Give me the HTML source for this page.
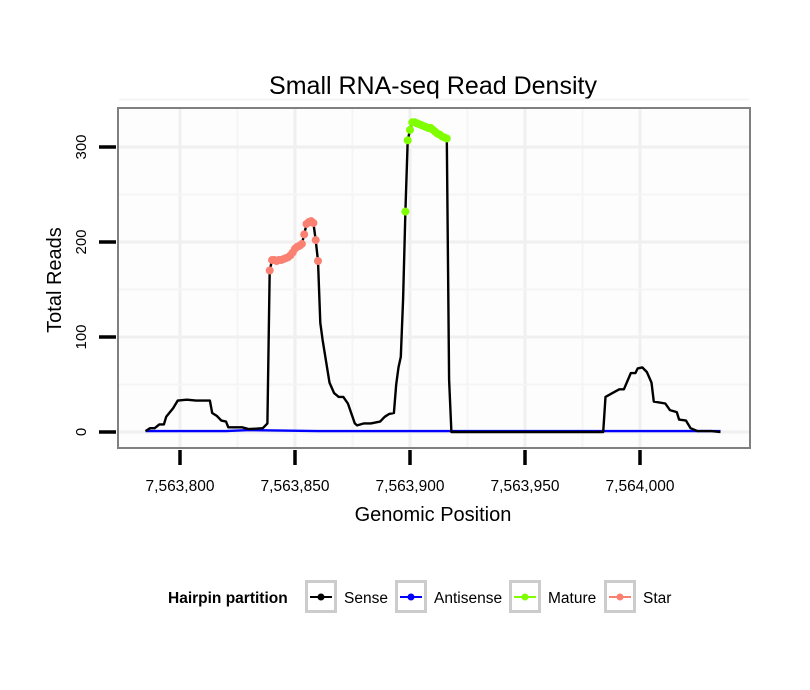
<!DOCTYPE html>
<html><head><meta charset="utf-8"><style>
body{margin:0;background:#fff;}
svg{display:block;font-family:"Liberation Sans",sans-serif;}
</style></head><body>
<svg id="chart" width="810" height="690" viewBox="0 0 810 690">
<text x="433" y="94" font-size="25" text-anchor="middle">Small RNA-seq Read Density</text>
<rect x="118" y="108" width="632" height="340" fill="#fdfdfd"/>
<g id="grid"></g>
<g id="series"></g>
<rect x="118" y="108" width="632" height="340" fill="none" stroke="#808080" stroke-width="2"/>
<g id="axes"></g>
<text x="61" y="280" font-size="20" text-anchor="middle" transform="rotate(-90 61 280)">Total Reads</text>
<text x="433" y="521" font-size="20" text-anchor="middle">Genomic Position</text>
<g>
<text x="168" y="603" font-size="15.5" font-weight="bold">Hairpin partition</text>
<g id="legend"></g>
</g>
</svg>
<script>
const xTicks=[7563800,7563850,7563900,7563950,7564000];
const xTickLabels=["7,563,800","7,563,850","7,563,900","7,563,950","7,564,000"];
const yTicks=[0,100,200,300];
const yTickLabels=["0","100","200","300"];
const sensePos=[-15,-13,-11,-9,-7,-6,-3,-1,3,7,13,14,16,18,20,21,27,30,36,38,39,40,41,42,43,44,45,46,47,48,49,50,51,52,53,54,55,56,57,58,59,60,61,62,65,67,69,71,73,76,77,80,83,87,89,91,93,94,95,96,97,98,99,100,101,102,103,104,105,106,107,108,109,110,111,112,113,114,115,116,117,118,184,185,188,191,193,196,198,199,201,203,205,206,211,213,216,217,220,222,225,231,235];
const senseVals=[1,4,4,8,8,16,25,33,34,33,33,20,17,12,11,5,5,3,4,9,170,181,181,180,181,181,182,183,184,186,189,193,195,196,198,208,219,221,222,220,202,180,115,97,52,41,37,37,30,9,7,9,9,11,16,19,20,50,68,79,140,232,307,318,326,326,325,324,323,322,321,320,320,318,316,314,313,311,310,309,55,0,0,37,41,45,45,62,62,67,68,63,52,32,30,23,21,13,12,4,1,1,0];
const antiPos=[-15,20,30,60,235];
const antiVals=[1,1,2,1,1];
const starPos=[39,40,41,42,43,44,45,46,47,48,49,50,51,52,53,54,55,56,57,58,59,60];
const starVals=[170,181,181,180,181,181,182,183,184,186,189,193,195,196,198,208,219,221,222,220,202,180];
const maturePos=[98,99,100,101,102,103,104,105,106,107,108,109,110,111,112,113,114,115,116];
const matureVals=[232,307,318,326,326,325,324,323,322,321,320,320,318,316,314,313,311,310,309];
const legendLabels=["Sense","Antisense","Mature","Star"];
const legendColors=["#000000","#0000ff","#7fff00","#fa8072"];

const base=7563800;
const X=p=>180+(p-base)*2.3;
const XO=o=>X(base+o);
const Y=v=>432-v*0.95;
const NS="http://www.w3.org/2000/svg";
function mk(t,a,parent){const e=document.createElementNS(NS,t);for(const k in a)e.setAttribute(k,a[k]);parent.appendChild(e);return e;}
const grid=document.getElementById('grid'),axes=document.getElementById('axes'),ser=document.getElementById('series'),leg=document.getElementById('legend');
for(let i=0;i<xTicks.length;i++){
 const g=mk('line',{x1:X(xTicks[i]),x2:X(xTicks[i]),y1:109,y2:447,stroke:'#f0f0f0','stroke-width':3},grid);
 
 
 if(i<xTicks.length-1){const xm=(X(xTicks[i])+X(xTicks[i+1]))/2;
 const m=mk('line',{x1:xm,x2:xm,y1:109,y2:447,stroke:'#f5f5f5','stroke-width':2},grid);
 
 }
 const t=mk('line',{x1:X(xTicks[i]),x2:X(xTicks[i]),y1:450,y2:465,stroke:'#000','stroke-width':3.5},axes);
 
 
 const l=mk('text',{x:X(xTicks[i]),y:491,'font-size':15.5,'text-anchor':'middle'},axes);l.textContent=xTickLabels[i];
 
 
}
for(let i=0;i<yTicks.length;i++){
 const g=mk('line',{x1:119,x2:749,y1:Y(yTicks[i]),y2:Y(yTicks[i]),stroke:'#f0f0f0','stroke-width':3},grid);
 
 
 const ym=Y(yTicks[i]+50);
 const m=mk('line',{x1:119,x2:749,y1:ym,y2:ym,stroke:'#f5f5f5','stroke-width':2},grid);
 
 
 const t=mk('line',{x1:99,x2:116,y1:Y(yTicks[i]),y2:Y(yTicks[i]),stroke:'#000','stroke-width':3.5},axes);
 
 
 const yy=Y(yTicks[i]);
 const l=mk('text',{x:86,y:yy,'font-size':15,'text-anchor':'middle',transform:`rotate(-90 86 ${yy})`},axes);l.textContent=yTickLabels[i];
 
 
}
function line(pos,vals,color,name){
 const pts=pos.map((p,i)=>XO(p).toFixed(1)+','+Y(vals[i]).toFixed(1)).join(' ');
 const e=mk('polyline',{points:pts,fill:'none',stroke:color,'stroke-width':2.4,'stroke-linejoin':'round'},ser);
 
 
}
line(antiPos,antiVals,'#0000ff','antisense-line');
line(sensePos,senseVals,'#000000','sense-line');
function pts(pos,vals,color,name){
 pos.forEach((p,i)=>{const c=mk('circle',{cx:XO(p),cy:Y(vals[i]),r:4,fill:color},ser);
 
 });
}
pts(starPos,starVals,'#fa8072','star-point');
pts(maturePos,matureVals,'#7fff00','mature-point');
const keyX=[305,395,509,604];
legendLabels.forEach((lab,i)=>{
 const g=mk('g',{},leg);
 
 
 mk('rect',{x:keyX[i]+1.5,y:581.5,width:29,height:30,fill:'#fff',stroke:'#cccccc','stroke-width':3},g);
 mk('line',{x1:keyX[i]+5,x2:keyX[i]+27,y1:597,y2:597,stroke:legendColors[i],'stroke-width':2},g);
 mk('circle',{cx:keyX[i]+16,cy:597,r:3.5,fill:legendColors[i]},g);
 const t=mk('text',{x:keyX[i]+39,y:603,'font-size':15.5},g);t.textContent=lab;
});
</script>
</body></html>
